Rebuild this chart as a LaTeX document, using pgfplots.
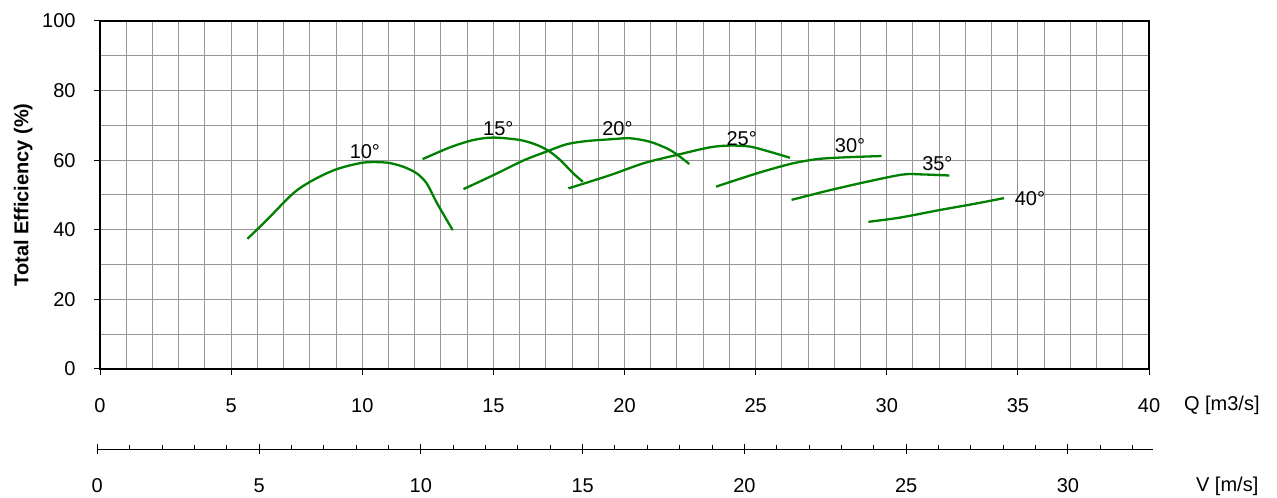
\documentclass[border=0pt]{standalone}
\usepackage{fontspec}
\setmainfont{Liberation Sans}
\usepackage{pgfplots}
\pgfplotsset{compat=1.18}
\definecolor{curve}{RGB}{0,128,0}
\definecolor{gridc}{RGB}{150,150,150}
\begin{document}
\begin{tikzpicture}
\useasboundingbox (0pt,0pt) rectangle (638.5pt,248.5pt);
\begin{axis}[
  at={(50pt,64pt)}, anchor=south west, scale only axis,
  width=524.5pt, height=174pt,
  xmin=0, xmax=40, ymin=0, ymax=100,
  xtick={0,5,...,40}, ytick={0,20,...,100},
  minor xtick={0,1,...,40}, minor ytick={10,30,...,90},
  grid=both,
  major grid style={gridc, line width=0.5pt},
  minor grid style={gridc, line width=0.5pt},
  tick align=outside, tick pos=left,
  major tick length=3pt, minor tick length=0pt,
  tick style={black, line width=0.5pt},
  axis line style={black, line width=0.6pt},
  font=\fontsize{10}{12}\selectfont,
  /pgf/number format/assume math mode=true,
  xticklabel style={anchor=center, yshift=-15.5pt},
  yticklabel style={anchor=east, inner sep=0pt, xshift=-9pt},
  ylabel={\bfseries Total Efficiency (\%)},
  ylabel style={at={(axis description cs:-0.0731,0.5)}, anchor=center},
  clip=false,
]
\draw[black, line width=1.1pt] (axis cs:0,0) -- (axis cs:40,0);
\addplot[curve, line width=1.15pt, smooth] coordinates {(5.62,37.4) (6.36,42.8) (7.37,50.5) (8.13,54.3) (9.02,57.4) (10.04,59.3) (10.93,59.3) (11.57,58.1) (12.08,56.2) (12.46,53.3) (12.84,47.8) (13.45,39.9)};
\addplot[curve, line width=1.15pt, smooth] coordinates {(12.30,60.3) (13.35,63.7) (14.24,65.8) (15.0,66.5) (16.02,65.8) (16.65,64.4) (17.1,62.7) (17.54,60.1) (18.05,56.2) (18.41,53.8)};
\addplot[curve, line width=1.15pt, smooth] coordinates {(13.86,51.7) (15.0,55.7) (16.14,59.9) (17.1,62.7) (17.8,64.6) (18.56,65.5) (19.45,66.0) (20.21,66.3) (20.97,65.3) (21.61,63.4) (21.99,61.7) (22.47,58.9)};
\addplot[curve, line width=1.15pt, smooth] coordinates {(17.86,51.9) (19.45,55.7) (20.72,59.1) (21.99,61.5) (23.26,63.7) (24.02,64.2) (24.79,63.9) (25.55,62.4) (26.31,60.7)};
\addplot[curve, line width=1.15pt, smooth] coordinates {(23.49,52.4) (25.04,56.2) (26.31,58.9) (27.33,60.3) (28.34,60.8) (29.8,61.2)};
\addplot[curve, line width=1.15pt, smooth] coordinates {(26.37,48.6) (27.84,51.4) (29.36,54.0) (30.63,55.9) (31.39,55.9) (32.39,55.6)};
\addplot[curve, line width=1.15pt, smooth] coordinates {(29.3,42.3) (30.5,43.5) (32.03,45.7) (33.3,47.4) (34.47,49.1)};
\node at (axis cs:10.1,62.4) {10°};
\node at (axis cs:15.19,69.0) {15°};
\node at (axis cs:19.73,69.0) {20°};
\node at (axis cs:24.47,66.3) {25°};
\node at (axis cs:28.6,64.2) {30°};
\node at (axis cs:31.93,59.1) {35°};
\node at (axis cs:35.46,48.9) {40°};
\node[anchor=east, inner sep=0pt] at ([xshift=55.5pt,yshift=-18pt]axis cs:40,0) {Q [m3/s]};
\end{axis}
\begin{axis}[
  at={(48.65pt,23.85pt)}, anchor=south west, scale only axis,
  width=527.7pt, height=10pt,
  xmin=0, xmax=32.62, ymin=0, ymax=1,
  hide y axis, axis x line*=bottom,
  xtick={0,5,...,30}, tick align=center, major tick length=5pt,
  extra x ticks={1,2,3,4,6,7,8,9,11,12,13,14,16,17,18,19,21,22,23,24,26,27,28,29,31,32},
  extra x tick labels={,,},
  extra x tick style={tick align=inside, major tick length=2.2pt},
  axis line style={black, line width=0.6pt},
  tick style={black, line width=0.5pt},
  font=\fontsize{10}{12}\selectfont,
  /pgf/number format/assume math mode=true,
  xticklabel style={anchor=center, yshift=-15.5pt},
  clip=false,
]
\node[anchor=east, inner sep=0pt] at ([xshift=53pt,yshift=-18.5pt]axis cs:32.62,0) {V [m/s]};
\end{axis}
\end{tikzpicture}
\end{document}
